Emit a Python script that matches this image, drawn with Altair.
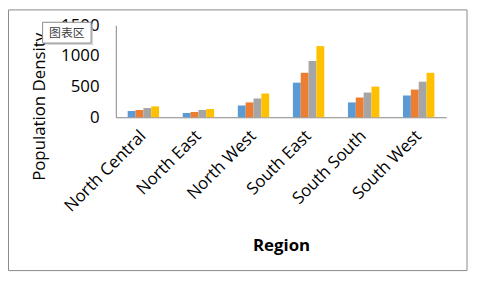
import altair as alt
import pandas as pd

regions = ["North Central", "North East", "North West", "South East", "South South", "South West"]
series_names = ["Series1", "Series2", "Series3", "Series4"]
s1 = [102, 70, 193, 564, 242, 355]
s2 = [118, 86, 242, 725, 322, 451]
s3 = [150, 118, 306, 918, 403, 580]
s4 = [177, 134, 387, 1160, 500, 725]
colors = ["#5B9BD5", "#ED7D31", "#A5A5A5", "#FFC000"]

rows = []
for name, vals in zip(series_names, [s1, s2, s3, s4]):
    for r, v in zip(regions, vals):
        rows.append({"Region": r, "Series": name, "Value": v})
df = pd.DataFrame(rows)

FONT = "Open Sans"

bars = alt.Chart(df).mark_bar().encode(
    x=alt.X("Region:N", sort=regions,
            scale=alt.Scale(paddingInner=0.43, paddingOuter=0.215),
            axis=alt.Axis(title="Region", labelAngle=-45, labelAlign="right",
                          labelBaseline="middle", labelPadding=16, ticks=False,
                          domainColor="#868686", labelFont=FONT, labelFontSize=17,
                          labelColor="#000000", titleFont=FONT, titleFontSize=17,
                          titleFontWeight="bold", titleColor="#000000",
                          titleX=167, titleY=130, titleBaseline="middle",
                          titleAnchor="middle", titleAlign="center")),
    xOffset=alt.XOffset("Series:N", sort=series_names, scale=alt.Scale(paddingInner=0, paddingOuter=0)),
    y=alt.Y("Value:Q", scale=alt.Scale(domain=[0, 1500], nice=False),
            axis=alt.Axis(title="Population Density", values=[0, 500, 1000, 1500],
                          format="d", ticks=False, grid=False, domainColor="#868686",
                          labelPadding=17, labelFont=FONT, labelFontSize=17,
                          labelColor="#000000", titleFont=FONT, titleFontSize=17,
                          titleFontWeight="normal", titleColor="#000000",
                          titleAngle=270, titleX=-77, titleY=82,
                          titleAlign="center", titleBaseline="middle")),
    color=alt.Color("Series:N", sort=series_names,
                    scale=alt.Scale(domain=series_names, range=colors), legend=None),
)

one = pd.DataFrame({"a": [0]})

border = alt.Chart(one).mark_rect(fill="transparent", stroke="#898989", strokeWidth=1, clip=False).encode(
    x=alt.value(-108.5), x2=alt.value(355), y=alt.value(-15.5), y2=alt.value(248)
)

tip_shadow = alt.Chart(one).mark_rect(fill="#c8c8c8", opacity=0.7, clip=False).encode(
    x=alt.value(-72), x2=alt.value(-23), y=alt.value(-1), y2=alt.value(20)
)
tip_box = alt.Chart(one).mark_rect(fill="#ffffff", stroke="#8a8a8a", strokeWidth=1, clip=False).encode(
    x=alt.value(-74), x2=alt.value(-25), y=alt.value(-3), y2=alt.value(18)
)
tip_text = alt.Chart(pd.DataFrame({"t": ["图表区"]})).mark_text(
    font="Noto Sans CJK SC", fontSize=12, color="#404040", align="center", baseline="middle", clip=False
).encode(x=alt.value(-49.5), y=alt.value(7.5), text="t:N")

chart = alt.layer(bars, border, tip_shadow, tip_box, tip_text).properties(
    width=334, height=93,
    padding={"left": 109, "top": 16, "right": 23, "bottom": 157},
    autosize=alt.AutoSizeParams(type="none"),
).configure_view(strokeWidth=0)

chart.save("out.html", embed_options={"renderer": "svg", "actions": False})
